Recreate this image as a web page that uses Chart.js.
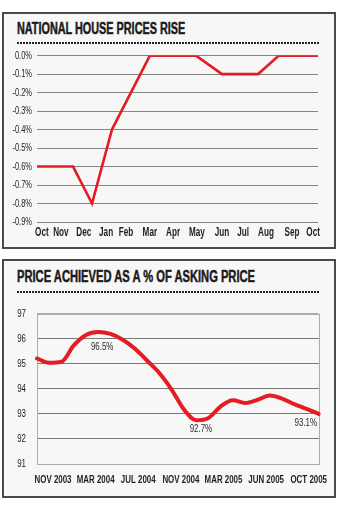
<!DOCTYPE html>
<html>
<head>
<meta charset="utf-8">
<script src="https://cdn.jsdelivr.net/npm/chart.js@4.4.1/dist/chart.umd.min.js"></script>
<style>
  html, body { margin: 0; padding: 0; background: #ffffff; }
  body { width: 344px; height: 505px; position: relative; overflow: hidden; }
  .panel { position: absolute; left: 2px; width: 334px; box-sizing: border-box;
           border: 2px solid #4a4a4a; background: #f7f7f7; }
  .title { position: absolute; left: 17px; white-space: nowrap;
           font-family: 'Liberation Sans', Arial, sans-serif;
           font-weight: 700; font-size: 16px; line-height: 16px; color: #1b1b1b;
           -webkit-text-stroke: 0.5px #1b1b1b;
           transform-origin: 0 0; }
  .dots { position: absolute; left: 17px; width: 302px; height: 2px;
          background-image: linear-gradient(to right, #222 2px, transparent 2px);
          background-size: 3px 2px; background-repeat: repeat-x; }
  canvas { position: absolute; left: 0; }
</style>
</head>
<body>
<div class="panel" style="top:12px;height:237px"></div>
<div class="title" id="t1" style="top:21px" data-w="168">NATIONAL HOUSE PRICES RISE</div>
<div class="dots" style="top:42px"></div>
<canvas id="c1" width="344" height="200" style="top:44px"></canvas>

<div class="panel" style="top:259px;height:239px"></div>
<div class="title" id="t2" style="top:269px" data-w="238">PRICE ACHIEVED AS A % OF ASKING PRICE</div>
<div class="dots" style="top:291px"></div>
<canvas id="c2" width="344" height="190" style="top:296px"></canvas>

<script>
// ---------- DATA: National house prices (monthly change, %) ----------
const topMonthLabels = ['Oct','Nov','Dec','Jan','Feb','Mar','Apr','May','Jun','Jul','Aug','Sep','Oct'];
const topMonthPos    = [0.21, 1.02, 2.0, 2.95, 3.8, 4.82, 5.81, 6.83, 7.9, 8.8, 9.78, 10.89, 11.79];
const topPointMonth  = [0, 1.54, 2.35, 3.2, 4.82, 6.79, 7.9, 9.44, 10.33, 12];
const topPointValue  = [-0.6, -0.6, -0.8, -0.4, 0, 0, -0.1, -0.1, 0, 0];

// ---------- DATA: Price achieved as % of asking price ----------
const askMonths = ['Nov 2003','Dec 2003','Jan 2004','Feb 2004','Mar 2004','Apr 2004','May 2004','Jun 2004',
                   'Jul 2004','Aug 2004','Sep 2004','Oct 2004','Nov 2004','Dec 2004','Jan 2005','Feb 2005',
                   'Mar 2005','Apr 2005','May 2005','Jun 2005','Jul 2005','Aug 2005','Sep 2005','Oct 2005'];
const askValues = [95.21, 95.04, 95.08, 95.73, 96.15, 96.27, 96.19, 95.96, 95.6, 95.12, 94.62, 93.96,
                   93.17, 92.75, 92.84, 93.3, 93.54, 93.43, 93.56, 93.73, 93.61, 93.39, 93.2, 93.0];
const askAxisLabels = ['NOV 2003','MAR 2004','JUL 2004','NOV 2004','MAR 2005','JUN 2005','OCT 2005'];
const annoLabels = ['96.5%', '92.7%', '93.1%'];
const annoMonth  = [5.32, 13.38, 21.94];

const RED = '#e41c24';
const FONT = "'Liberation Sans', Arial, sans-serif";
Chart.defaults.font.family = FONT;
Chart.defaults.color = '#222';

// scale titles to the reference width
document.querySelectorAll('.title').forEach(el => {
  const w = el.scrollWidth;
  el.style.transform = 'scaleX(' + (parseFloat(el.dataset.w) / w) + ')';
});

// condensed canvas text (the original uses a condensed typeface)
function condense(canvas, k) {
  const ctx = canvas.getContext('2d');
  const orig = ctx.fillText.bind(ctx);
  ctx.fillText = function (t, x, y, mw) {
    const w = ctx.measureText(t).width * k;
    return orig(t, x, y, mw !== undefined ? Math.min(mw, w) : w);
  };
  return canvas;
}

// ---------- Chart 1 ----------
new Chart(condense(document.getElementById('c1'), 0.68), {
  type: 'line',
  data: {
    datasets: [{
      data: topPointMonth.map((m, i) => ({ x: m, y: topPointValue[i] })),
      borderColor: RED, borderWidth: 2.6, pointRadius: 0, tension: 0,
      borderJoinStyle: 'miter', fill: false
    }]
  },
  options: {
    responsive: false, animation: false, devicePixelRatio: 1,
    layout: { padding: { top: 11, right: 26, bottom: 0, left: 0 } },
    plugins: { legend: { display: false }, tooltip: { enabled: false } },
    scales: {
      x: {
        type: 'linear', min: 0, max: 12,
        afterBuildTicks: s => { s.ticks = topMonthPos.map(v => ({ value: v })); },
        afterFit: s => { s.height = 22; },
        grid: { display: false, drawTicks: false }, border: { display: false },
        ticks: { autoSkip: false, maxRotation: 0, padding: 3,
                 font: { size: 12, weight: 'bold' }, color: '#1e1e1e',
                 callback: (v, i) => topMonthLabels[i] }
      },
      y: {
        min: -0.9, max: 0,
        afterBuildTicks: s => { const t = []; for (let k = 0; k <= 9; k++) t.push({ value: -k / 10 }); s.ticks = t; },
        afterFit: s => { s.width = 37; },
        grid: { color: '#858585', lineWidth: 1, drawTicks: false },
        border: { display: false },
        ticks: { padding: 5, font: { size: 11 }, color: '#1e1e1e',
                 callback: v => (Math.abs(v) < 1e-9 ? '0.0' : v.toFixed(1)) + '%' }
      }
    }
  }
});

// ---------- Chart 2 ----------
const framePlugin = {
  id: 'frame',
  beforeDatasetsDraw(chart) {
    const { ctx, chartArea: a } = chart;
    ctx.save();
    ctx.strokeStyle = '#ababab';
    ctx.lineWidth = 1;
    ctx.strokeRect(Math.round(a.left) + 0.5, Math.round(a.top) + 0.5,
                   Math.round(a.right - a.left), Math.round(a.bottom - a.top));
    ctx.restore();
  }
};
const annoPlugin = {
  id: 'anno',
  afterDatasetsDraw(chart, args, opts) {
    const { ctx } = chart;
    const xs = chart.scales.x, ys = chart.scales.y;
    ctx.save();
    ctx.font = '11px ' + FONT;
    ctx.fillStyle = '#2a2a2a';
    ctx.textAlign = 'center';
    ctx.textBaseline = 'middle';
    annoLabels.forEach((txt, i) => {
      const m = annoMonth[i];
      const i0 = Math.floor(m), i1 = Math.min(i0 + 1, askValues.length - 1);
      const v = askValues[i0] + (askValues[i1] - askValues[i0]) * (m - i0);
      ctx.fillText(txt, xs.getPixelForValue(m), ys.getPixelForValue(v) + opts.dy[i]);
    });
    ctx.restore();
  }
};

new Chart(condense(document.getElementById('c2'), 0.72), {
  type: 'line',
  data: {
    labels: askMonths,
    datasets: [{
      data: askValues, xAxisID: 'x', yAxisID: 'y',
      borderColor: RED, borderWidth: 4, pointRadius: 0,
      cubicInterpolationMode: 'monotone', fill: false, borderCapStyle: 'round'
    }]
  },
  options: {
    responsive: false, animation: false, devicePixelRatio: 1,
    layout: { padding: { top: 7, right: 25, bottom: 0, left: 0 } },
    plugins: { legend: { display: false }, tooltip: { enabled: false },
               anno: { dy: [14, 10, 14] } },
    scales: {
      x: { type: 'category', display: false, offset: false },
      xl: {
        type: 'linear', position: 'bottom', min: -0.376, max: 6.235,
        afterBuildTicks: s => { s.ticks = askAxisLabels.map((_, i) => ({ value: i })); },
        afterFit: s => { s.height = 22; },
        grid: { display: false, drawTicks: false }, border: { display: false },
        ticks: { autoSkip: false, maxRotation: 0, padding: 9,
                 font: { size: 11, weight: 'bold' }, color: '#1e1e1e',
                 callback: (v, i) => askAxisLabels[i] }
      },
      y: {
        min: 91, max: 97,
        ticks: { stepSize: 1, padding: 11, font: { size: 11 }, color: '#1e1e1e' },
        afterFit: s => { s.width = 37; },
        grid: { drawTicks: false, lineWidth: 1,
                color: c => (c.tick && (c.tick.value === 97 || c.tick.value === 91)) ? '#ababab' : '#7a7a7a' },
        border: { display: false }
      }
    }
  },
  plugins: [framePlugin, annoPlugin]
});
</script>
</body>
</html>
